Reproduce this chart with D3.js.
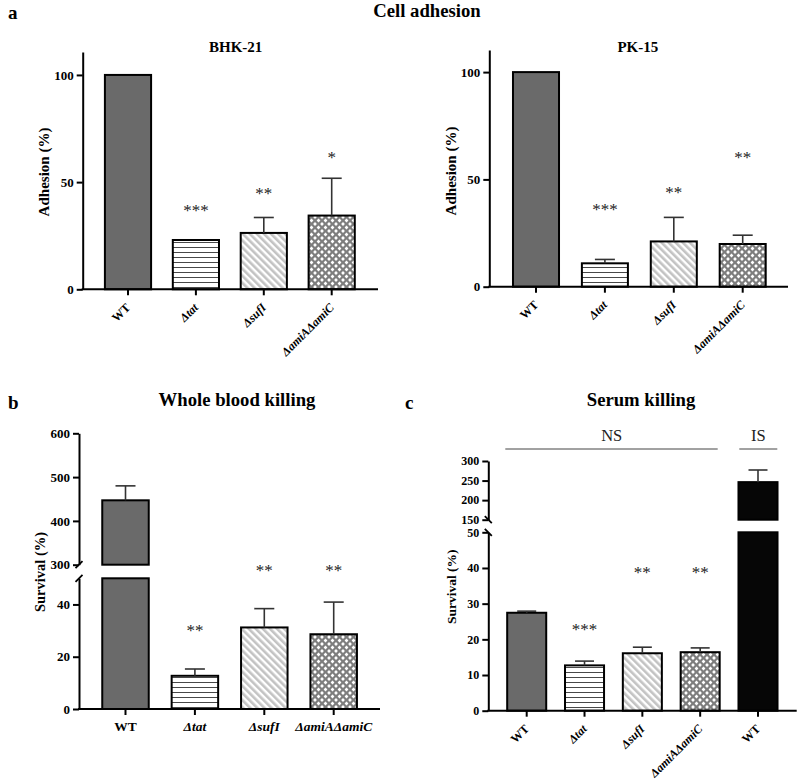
<!DOCTYPE html>
<html><head><meta charset="utf-8">
<script src="https://cdn.jsdelivr.net/npm/d3@7"></script>
<style>
body{margin:0;background:#fff}
svg{display:block}
text{font-family:"Liberation Serif","Times New Roman",serif}
</style>
</head><body><svg id="c" width="800" height="780"></svg>
<script>
// ---------- data ----------
const strains = ["WT", "Δtat", "ΔsufI", "ΔamiAΔamiC"];
const bhkValues = [100, 23, 26.3, 34.4];
const bhkErrors = [0, 0, 7.2, 17.4];
const bhkStars = ["", "***", "**", "*"];
const bhkStarLevels = [0, 38, 46, 62.5];

const pkValues = [100, 10.9, 21.1, 19.9];
const pkErrors = [0, 1.8, 11.2, 4.1];
const pkStars = ["", "***", "**", "**"];
const pkStarLevels = [0, 37, 45, 61.3];

const bloodValues = [447, 12.7, 31.2, 28.6];
const bloodErrors = [33, 2.6, 7.2, 12.3];
const bloodStars = ["", "**", "**", "**"];
const bloodStarLevels = [0, 31, 53.8, 53.8];

const serumStrains = ["WT", "Δtat", "ΔsufI", "ΔamiAΔamiC", "WT"];
const serumValues = [27.45, 12.7, 16.1, 16.4, 246];
const serumErrors = [0.45, 1.2, 1.7, 1.2, 31];
const serumStars = ["", "***", "**", "**", ""];
const serumStarLevels = [0, 23.4, 39.4, 39.4, 0];

const adhesionTicks = [0, 50, 100];
const bloodLowTicks = [0, 20, 40];
const bloodHighTicks = [300, 400, 500, 600];
const serumLowTicks = [0, 10, 20, 30, 40, 50];
const serumHighTicks = [150, 200, 250, 300];

// ---------- styles ----------
const fourFills = ["#6a6a6a", "url(#hLines)", "url(#diag)", "url(#dots)"];
const serumFills = ["#6a6a6a", "url(#hLines)", "url(#diag)", "url(#dots)", "#060606"];

const svg = d3.select("#c");
const defs = svg.append("defs");
const pH = defs.append("pattern").attr("id", "hLines").attr("patternUnits", "userSpaceOnUse")
  .attr("width", 10).attr("height", 5);
pH.append("rect").attr("width", 10).attr("height", 5).attr("fill", "#fff");
pH.append("line").attr("x1", 0).attr("x2", 10).attr("y1", 2.5).attr("y2", 2.5)
  .attr("stroke", "#333").attr("stroke-width", 0.9);
const pD = defs.append("pattern").attr("id", "diag").attr("patternUnits", "userSpaceOnUse")
  .attr("width", 5).attr("height", 5).attr("patternTransform", "rotate(-45)");
pD.append("rect").attr("width", 5).attr("height", 5).attr("fill", "#fff");
pD.append("rect").attr("width", 2.6).attr("height", 5).attr("fill", "#c3c3c3");
const pT = defs.append("pattern").attr("id", "dots").attr("patternUnits", "userSpaceOnUse")
  .attr("width", 7).attr("height", 7);
pT.append("rect").attr("width", 7).attr("height", 7).attr("fill", "#7e7e7e");
[[3.5, 3.5], [0, 0], [7, 0], [0, 7], [7, 7]].forEach(([cx, cy]) => {
  const r = 1.9;
  pT.append("path").attr("d", `M${cx},${cy - r}L${cx + r},${cy}L${cx},${cy + r}L${cx - r},${cy}Z`).attr("fill", "#fff");
});

function txt(x, y, s, size, opts = {}) {
  return svg.append("text").attr("x", x).attr("y", y).text(s)
    .attr("font-size", size)
    .attr("font-weight", opts.weight || "bold")
    .attr("font-style", opts.style || "normal")
    .attr("text-anchor", opts.anchor || "middle")
    .attr("fill", opts.fill || "#000");
}

function panel(cfg) {
  const g = svg.append("g");
  const n = cfg.values.length;
  const step = (cfg.c1 - cfg.c0) / (n - 1);
  const x = d3.scaleBand().domain(d3.range(n))
    .range([cfg.c0 - step / 2, cfg.c1 + step / 2])
    .paddingInner(cfg.pad).paddingOuter(cfg.pad / 2);
  const segs = cfg.segs.map(s => ({ ...s, scale: d3.scaleLinear().domain(s.dom).range(s.rng) }));
  const low = segs[0].scale;
  const yVal = v => {
    if (segs.length === 1 || v <= segs[0].dom[1]) return low(v);
    return segs[1].scale(v);
  };
  const y0 = low(0);

  // y axes
  segs.forEach(s => {
    const ax = g.append("g").attr("transform", `translate(${cfg.axisX},0)`)
      .call(d3.axisLeft(s.scale).tickValues(s.ticks).tickSize(6).tickSizeOuter(0).tickPadding(3));
    ax.selectAll("path,line").attr("stroke", "#000").attr("stroke-width", 2);
    ax.selectAll("text").attr("font-size", cfg.tickSize).attr("font-weight", "bold").attr("fill", "#000");
  });
  // break marks
  if (segs.length > 1) {
    [segs[1].rng[0], segs[0].rng[1]].forEach(yy => {
      g.append("line").attr("x1", cfg.axisX - 3.5).attr("x2", cfg.axisX + 3.5)
        .attr("y1", yy + cfg.slash * 3.5).attr("y2", yy - cfg.slash * 3.5)
        .attr("stroke", "#000").attr("stroke-width", 1.8);
    });
  }

  // bars
  cfg.values.forEach((v, i) => {
    const bx = x(i), bw = x.bandwidth();
    if (segs.length === 1 || v <= segs[0].dom[1]) {
      g.append("rect").attr("x", bx).attr("y", low(v)).attr("width", bw).attr("height", y0 - low(v))
        .attr("fill", cfg.fills[i]).attr("stroke", "#000").attr("stroke-width", 2);
    } else {
      const top0 = low(segs[0].dom[1]);
      g.append("rect").attr("x", bx).attr("y", top0).attr("width", bw).attr("height", y0 - top0)
        .attr("fill", cfg.fills[i]).attr("stroke", "#000").attr("stroke-width", 2);
      const s1 = segs[1].scale, b1 = s1(segs[1].dom[0]);
      g.append("rect").attr("x", bx).attr("y", s1(v)).attr("width", bw).attr("height", b1 - s1(v))
        .attr("fill", cfg.fills[i]).attr("stroke", "#000").attr("stroke-width", 2);
    }
  });

  // error bars
  cfg.values.forEach((v, i) => {
    const e = cfg.errors[i];
    if (!e) return;
    const cx = x(i) + x.bandwidth() / 2, ya = yVal(v), yb = yVal(v + e);
    g.append("line").attr("x1", cx).attr("x2", cx).attr("y1", ya).attr("y2", yb)
      .attr("stroke", "#333").attr("stroke-width", 1.6);
    g.append("line").attr("x1", cx - cfg.cap).attr("x2", cx + cfg.cap).attr("y1", yb).attr("y2", yb)
      .attr("stroke", "#333").attr("stroke-width", 1.6);
  });

  // x axis
  g.append("line").attr("x1", cfg.axisX - 1).attr("x2", cfg.xEnd).attr("y1", y0).attr("y2", y0)
    .attr("stroke", "#000").attr("stroke-width", 2);
  cfg.values.forEach((v, i) => {
    const cx = x(i) + x.bandwidth() / 2;
    g.append("line").attr("x1", cx).attr("x2", cx).attr("y1", y0).attr("y2", y0 + 6)
      .attr("stroke", "#000").attr("stroke-width", 2);
    const lab = cfg.labels[i];
    const italic = lab.startsWith("Δ");
    if (cfg.rotate) {
      g.append("text").attr("transform", `translate(${cx + 3},${y0 + 19}) rotate(-45)`)
        .attr("text-anchor", "end").attr("font-size", 12).attr("font-weight", "bold")
        .attr("font-style", italic ? "italic" : "normal").text(lab);
    } else {
      g.append("text").attr("x", cx).attr("y", y0 + 22)
        .attr("text-anchor", "middle").attr("font-size", 13.5).attr("font-weight", "bold")
        .attr("font-style", italic ? "italic" : "normal").text(lab);
    }
  });

  // stars
  cfg.stars.forEach((s, i) => {
    if (!s) return;
    const cx = x(i) + x.bandwidth() / 2;
    g.append("text").attr("x", cx).attr("y", low(cfg.starLevels[i])).attr("dy", "0.46em")
      .attr("text-anchor", "middle").attr("font-size", 17).attr("fill", "#222").text(s);
  });

  // y label
  g.append("text").attr("transform", `translate(${cfg.ylx},${cfg.yly}) rotate(-90)`)
    .attr("dy", "0.35em").attr("text-anchor", "middle").attr("font-size", cfg.ylSize)
    .attr("font-weight", "bold").text(cfg.ylabel);
  // title
  txt(cfg.tx, cfg.ty, cfg.title, cfg.tSize);
}

// panel letters and main titles
txt(8, 19, "a", 19, { anchor: "start" });
txt(427, 16.7, "Cell adhesion", 18.7);
txt(8, 409, "b", 19, { anchor: "start" });
txt(405, 409, "c", 19, { anchor: "start" });

panel({
  values: bhkValues, errors: bhkErrors, stars: bhkStars, starLevels: bhkStarLevels,
  labels: strains, fills: fourFills, c0: 128, c1: 331.7, pad: 0.32, cap: 10,
  axisX: 82.7, xEnd: 378, rotate: true, tickSize: 13,
  segs: [{ dom: [0, 110.7], rng: [289.3, 52], ticks: adhesionTicks }],
  ylabel: "Adhesion (%)", ylx: 44, yly: 172, ylSize: 15,
  title: "BHK-21", tx: 235.7, ty: 51.7, tSize: 15
});
panel({
  values: pkValues, errors: pkErrors, stars: pkStars, starLevels: pkStarLevels,
  labels: strains, fills: fourFills, c0: 536, c1: 742.7, pad: 0.332, cap: 10,
  axisX: 489.3, xEnd: 788, rotate: true, tickSize: 13,
  segs: [{ dom: [0, 110.3], rng: [286.7, 50], ticks: adhesionTicks }],
  ylabel: "Adhesion (%)", ylx: 451, yly: 171, ylSize: 15,
  title: "PK-15", tx: 637.8, ty: 51.7, tSize: 15
});
panel({
  values: bloodValues, errors: bloodErrors, stars: bloodStars, starLevels: bloodStarLevels,
  labels: strains, fills: fourFills, c0: 125.5, c1: 333.7, pad: 0.33, cap: 10,
  axisX: 79, xEnd: 380, rotate: false, slash: 1, tickSize: 13,
  segs: [{ dom: [0, 50], rng: [709, 578.3], ticks: bloodLowTicks },
         { dom: [300, 600], rng: [564.7, 433.3], ticks: bloodHighTicks }],
  ylabel: "Survival (%)", ylx: 39.5, yly: 572, ylSize: 14.5,
  title: "Whole blood killing", tx: 237, ty: 406, tSize: 18.7
});
panel({
  values: serumValues, errors: serumErrors, stars: serumStars, starLevels: serumStarLevels,
  labels: serumStrains, fills: serumFills, c0: 526.7, c1: 758, pad: 0.325, cap: 9.5,
  axisX: 488.3, xEnd: 796.7, rotate: true, slash: -1, tickSize: 12,
  segs: [{ dom: [0, 50], rng: [710.7, 532.3], ticks: serumLowTicks },
         { dom: [150, 300], rng: [519.7, 461], ticks: serumHighTicks }],
  ylabel: "Survival (%)", ylx: 451, yly: 586.7, ylSize: 13.5,
  title: "Serum killing", tx: 641, ty: 406, tSize: 18.7
});

// NS / IS brackets
svg.append("line").attr("x1", 505.3).attr("x2", 717.7).attr("y1", 449).attr("y2", 449)
  .attr("stroke", "#444").attr("stroke-width", 1);
svg.append("line").attr("x1", 739.3).attr("x2", 777.3).attr("y1", 449).attr("y2", 449)
  .attr("stroke", "#444").attr("stroke-width", 1);
txt(611.7, 441, "NS", 16.5, { weight: "normal", fill: "#222" });
txt(758.3, 441, "IS", 16.5, { weight: "normal", fill: "#222" });
</script>
</body></html>
